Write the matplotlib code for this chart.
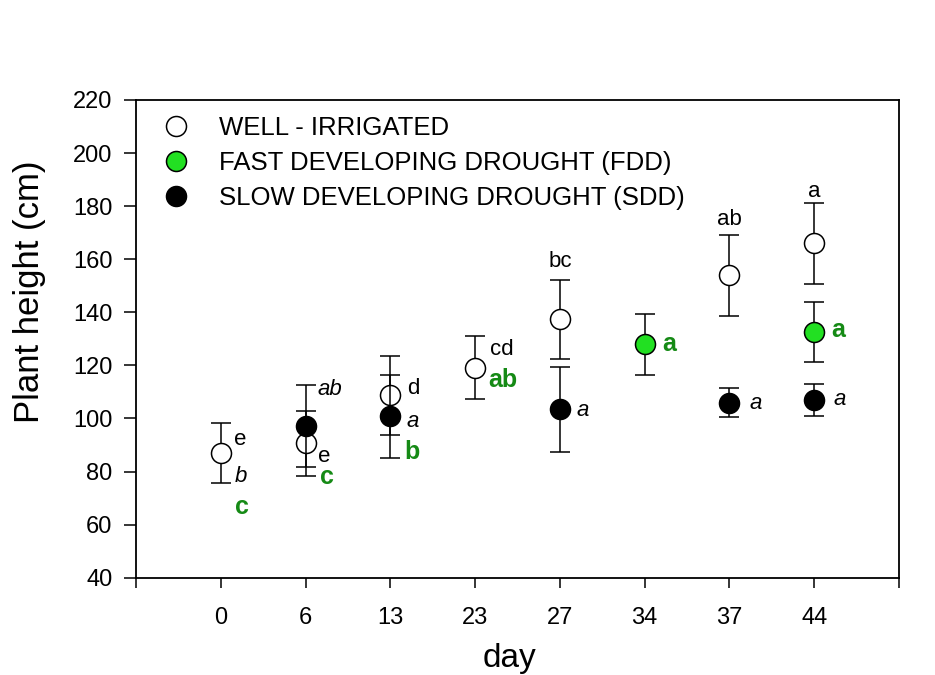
import numpy as np
import matplotlib

matplotlib.use("Agg")
import matplotlib.pyplot as plt
from matplotlib.lines import Line2D

plt.rcParams["font.family"] = ["Liberation Sans", "DejaVu Sans"]

# sampling days (shown as evenly spaced categories)
days = ["0", "6", "13", "23", "27", "34", "37", "44"]
nan = np.nan

# mean plant height (cm) and error per treatment
wi_mean = [87.0, 90.6, 108.7, 119.2, 137.3, nan, 153.9, 166.0]
wi_err = [11.3, 12.4, 15.0, 12.0, 15.0, nan, 15.4, 15.2]
fdd_mean = [nan, nan, nan, nan, nan, 128.0, nan, 132.5]
fdd_err = [nan, nan, nan, nan, nan, 11.5, nan, 11.2]
sdd_mean = [nan, 97.1, 100.8, nan, 103.4, nan, 106.0, 107.1]
sdd_err = [nan, 15.4, 15.7, nan, 16.0, nan, 5.4, 6.0]

# significance letters
wi_letters = ["e", "e", "d", "cd", "bc", "", "ab", "a"]
fdd_letters = ["c", "c", "b", "ab", "", "a", "", "a"]
sdd_letters = ["b", "ab", "a", "", "a", "", "a", "a"]

# where each letter sits: (offset from category, height in cm)
wi_pos = [(0.23, 92.1), (0.22, 85.5), (0.27, 111.4), (0.32, 125.9),
          (0.0, 159.3), None, (0.0, 175.0), (0.0, 185.6)]
fdd_pos = [(0.25, 66.7), (0.25, 77.8), (0.25, 87.2), (0.33, 114.4),
           None, (0.29, 127.9), None, (0.28, 133.2)]
sdd_pos = [(0.24, 78.0), (0.29, 111.0), (0.26, 98.9), None,
           (0.27, 103.1), None, (0.31, 105.6), (0.30, 107.1)]

GREEN = "#22e022"
LETTER_GREEN = "#158a15"

x = np.arange(len(days))

fig = plt.figure(figsize=(9.35, 6.75), dpi=100)
ax = fig.add_axes([0.1455, 0.1441, 0.8160, 0.7078])

ms, lw, cap = 14.4, 1.1, 7.2
common = dict(fmt="o", ms=ms, mew=lw, mec="black", ecolor="black",
              elinewidth=lw, capsize=cap, capthick=lw)
ax.errorbar(x, wi_mean, yerr=wi_err, mfc="white", zorder=3, **common)
ax.errorbar(x, fdd_mean, yerr=fdd_err, mfc=GREEN, zorder=4, **common)
ax.errorbar(x, sdd_mean, yerr=sdd_err, mfc="black", zorder=5, **common)

for letters, pos, style in [
    (wi_letters, wi_pos, dict(color="black", fontsize=16)),
    (sdd_letters, sdd_pos, dict(color="black", fontsize=16, fontstyle="italic")),
    (fdd_letters, fdd_pos, dict(color=LETTER_GREEN, fontsize=18, fontweight="bold")),
]:
    for i, (lab, p) in enumerate(zip(letters, pos)):
        if lab and p is not None:
            ax.text(i + p[0], p[1], lab, ha="center", va="center", zorder=6, **style)

ax.set_xlim(-1, len(days))
ax.set_ylim(40, 220)
ax.set_xticks(np.arange(-1, len(days) + 1))
ax.set_xticklabels([""] + days + [""])
ax.set_yticks(np.arange(40, 221, 20))
ax.tick_params(axis="x", direction="out", length=7, width=1.1, labelsize=17, pad=14)
ax.tick_params(axis="y", direction="out", length=9, width=1.1, labelsize=17, pad=8)
for s in ax.spines.values():
    s.set_linewidth(1.3)

ax.set_xlabel("day", fontsize=24)
ax.xaxis.set_label_coords(0.489, -0.137)
ax.set_ylabel("Plant height (cm)", fontsize=25)
ax.yaxis.set_label_coords(-0.118, 0.598)

handles = [
    Line2D([], [], ls="none", marker="o", ms=ms, mew=lw, mec="black", mfc="white"),
    Line2D([], [], ls="none", marker="o", ms=ms, mew=lw, mec="black", mfc=GREEN),
    Line2D([], [], ls="none", marker="o", ms=ms, mew=lw, mec="black", mfc="black"),
]
labels = ["WELL - IRRIGATED", "FAST DEVELOPING DROUGHT (FDD)",
          "SLOW DEVELOPING DROUGHT (SDD)"]
ax.legend(handles, labels, loc="upper left", bbox_to_anchor=(0.035, 0.966),
          frameon=False, fontsize=18.5, handlelength=1.0, handletextpad=1.2,
          labelspacing=0.42, borderpad=0, borderaxespad=0)

fig.savefig("out.png", dpi=100, facecolor="white")
